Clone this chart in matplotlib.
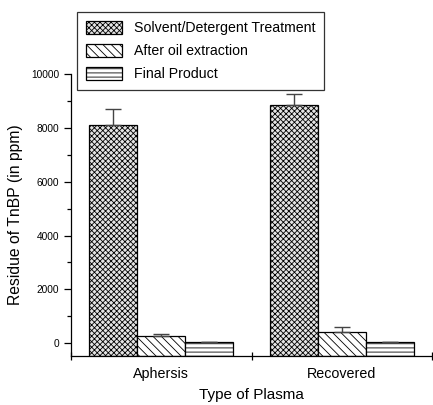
import matplotlib
matplotlib.use("Agg")
import matplotlib.pyplot as plt
import numpy as np

plt.rcParams['font.family'] = ['Liberation Sans', 'DejaVu Sans']
plt.rcParams['hatch.linewidth'] = 0.6

categories = ["Aphersis", "Recovered"]
series_names = ["Solvent/Detergent Treatment", "After oil extraction", "Final Product"]
sd_values = [8100, 8850]
sd_err = [620, 420]
oil_values = [270, 400]
oil_err = [70, 200]
final_values = [25, 25]
final_err = [0, 0]
yticks = [0, 2000, 4000, 6000, 8000, 10000]

hatches = ['xxxxxx', '\\\\\\\\', '----']
facecols = ['#e4e4e4', 'white', 'white']

fig = plt.figure(figsize=(4.33, 4.05), dpi=100)
ax = fig.add_axes([0.164, 0.1217, 0.834, 0.6948])

ymin, ymax = -470, 10000
x = np.arange(len(categories))
w = 0.266
series = [(sd_values, sd_err), (oil_values, oil_err), (final_values, final_err)]
handles = []
for i, ((vals, errs), name) in enumerate(zip(series, series_names)):
    pos = x + (i - 1) * w
    vals = np.array(vals, dtype=float)
    b = ax.bar(pos, vals - ymin, bottom=ymin, width=w, facecolor=facecols[i],
               edgecolor='black', linewidth=0.9, hatch=hatches[i], label=name, zorder=2)
    handles.append(b)
    errs = np.array(errs, dtype=float)
    ax.errorbar(pos, vals, yerr=[np.zeros_like(errs), errs], fmt='none',
                ecolor='#444444', elinewidth=1.0, capsize=5.5, capthick=1.0, zorder=3)

ax.set_xlim(-0.5, 1.5)
ax.set_ylim(ymin, ymax)
ax.set_yticks(yticks)
ax.set_yticks(np.arange(1000, 10000, 2000), minor=True)
ax.set_xticks([-0.5, 0.5, 1.5])
ax.set_xticklabels([])
ax.set_xticks(x, minor=True)
ax.set_xticklabels(categories, minor=True, fontsize=10.3)
ax.tick_params(axis='x', which='minor', length=0, pad=8)
ax.tick_params(axis='x', which='major', direction='inout', length=6, width=0.9)
ax.tick_params(axis='y', which='major', direction='out', length=5, width=0.9, labelsize=7.3)
ax.tick_params(axis='y', which='minor', direction='out', length=3, width=0.9)

for s in ['top', 'right']:
    ax.spines[s].set_visible(False)
for s in ['left', 'bottom']:
    ax.spines[s].set_linewidth(0.9)

ax.set_ylabel("Residue of TnBP (in ppm)", fontsize=11.3, labelpad=6)
ax.set_xlabel("Type of Plasma", fontsize=11, labelpad=5)

leg = fig.legend(handles=handles, loc='upper left', bbox_to_anchor=(77/433, 1 - 12/405),
                 bbox_transform=fig.transFigure, borderaxespad=0,
                 fontsize=10.2, frameon=True, fancybox=False,
                 edgecolor='black', handlelength=2.6, handleheight=1.1, labelspacing=0.6,
                 borderpad=0.6, handletextpad=0.8)
leg.get_frame().set_linewidth(0.9)

fig.savefig("out.png", dpi=100)
